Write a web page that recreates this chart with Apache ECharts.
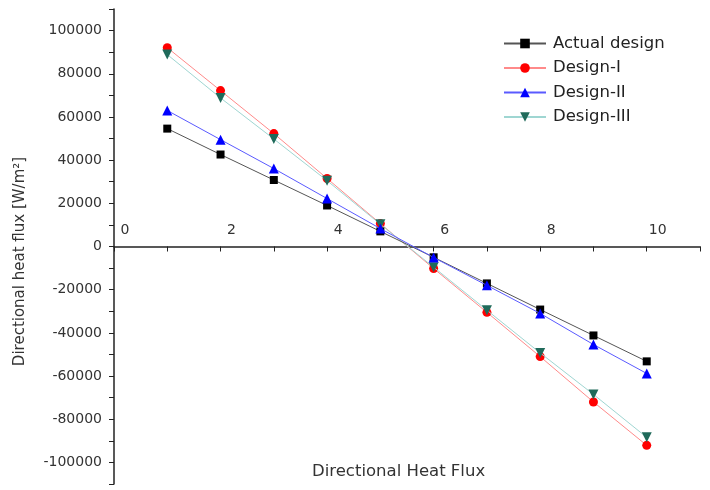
<!DOCTYPE html>
<html>
<head>
<meta charset="utf-8">
<script src="https://cdn.jsdelivr.net/npm/echarts@6/dist/echarts.min.js"></script>
<style>
  html, body { margin: 0; padding: 0; background: #fff; }
  #chart { width: 710px; height: 490px; }
</style>
</head>
<body>
<div id="chart"></div>
<script>
// positions along the x axis
var xs = [1, 2, 3, 4, 5, 6, 7, 8, 9, 10];

// values (W/m2)
var actualDesign = [54600, 42600, 30800, 19000, 7000, -5000, -17100, -29200, -41200, -53200];
var designI = [92100, 72200, 52300, 31500, 10600, -10200, -30500, -51000, -72000, -92100];
var designII = [63000, 49500, 36100, 22200, 8300, -5100, -18000, -31000, -45400, -58800];
var designIII = [88900, 68800, 49800, 30500, 10300, -9600, -29500, -49300, -68500, -88400];

var seriesNames = ["Actual design", "Design-I", "Design-II", "Design-III"];

function pairs(vals) {
  return xs.map(function (x, i) { return [x, vals[i]]; });
}

var chart = echarts.init(document.getElementById("chart"));
var font = "DejaVu Sans, Liberation Sans, sans-serif";

chart.setOption({
  animation: false,
  backgroundColor: "#fff",
  title: {
    text: "Directional Heat Flux",
    left: 312,
    top: 463,
    padding: 0,
    textStyle: { fontFamily: font, fontSize: 16.5, fontWeight: "normal", color: "#333" }
  },
  legend: {
    orient: "vertical",
    left: 503,
    top: 35,
    padding: 0,
    itemWidth: 42,
    itemHeight: 12,
    itemGap: 7.5,
    data: seriesNames,
    textStyle: { fontFamily: font, fontSize: 16.5, color: "#222", padding: [0, 0, 0, 2] }
  },
  grid: { left: 114, right: 10, top: 9, bottom: 6 },
  xAxis: {
    type: "value",
    min: 0,
    max: 11,
    interval: 1,
    offset: -237.5, // axis sits on y = 0
    splitLine: { show: false },
    axisLine: { onZero: false, lineStyle: { color: "#222", width: 1.5 } },
    axisTick: { inside: false, length: 5, lineStyle: { color: "#222" } },
    axisLabel: {
      inside: true,
      margin: 9,
      padding: [0, 0, 0, 22],
      fontFamily: font,
      fontSize: 14,
      color: "#333",
      formatter: function (v) {
        return v % 2 === 0 && v <= 10 ? String(v) : "";
      }
    }
  },
  yAxis: {
    type: "value",
    min: -110000,
    max: 110000,
    interval: 10000,
    name: "Directional heat flux [W/m²]",
    nameLocation: "middle",
    nameGap: 86,
    nameTextStyle: { fontFamily: font, fontSize: 15, color: "#333", padding: [0, 0, 0, -30] },
    splitLine: { show: false },
    axisLine: { onZero: false, lineStyle: { color: "#222", width: 1.5 } },
    axisTick: { length: 5, lineStyle: { color: "#222" } },
    axisLabel: {
      margin: 12,
      fontFamily: font,
      fontSize: 14,
      color: "#333",
      formatter: function (v) {
        return v % 20000 === 0 && Math.abs(v) <= 100000 ? String(v) : "";
      }
    }
  },
  series: [
    {
      name: "Actual design",
      type: "line",
      data: pairs(actualDesign),
      symbol: "rect",
      symbolSize: 8,
      itemStyle: { color: "#000" },
      lineStyle: { color: "#555", width: 1 },
      z: 4
    },
    {
      name: "Design-I",
      type: "line",
      data: pairs(designI),
      symbol: "circle",
      symbolSize: 9,
      itemStyle: { color: "#ff0000" },
      lineStyle: { color: "#ff8a8a", width: 1 },
      z: 2
    },
    {
      name: "Design-II",
      type: "line",
      data: pairs(designII),
      symbol: "triangle",
      symbolSize: 10,
      itemStyle: { color: "#0000ff" },
      lineStyle: { color: "#5a5aff", width: 1 },
      z: 5
    },
    {
      name: "Design-III",
      type: "line",
      data: pairs(designIII),
      symbol: "triangle",
      symbolRotate: 180,
      symbolSize: 10,
      itemStyle: { color: "#1f6a5a" },
      lineStyle: { color: "#9fd6d2", width: 1 },
      z: 3
    }
  ]
});
</script>
</body>
</html>
